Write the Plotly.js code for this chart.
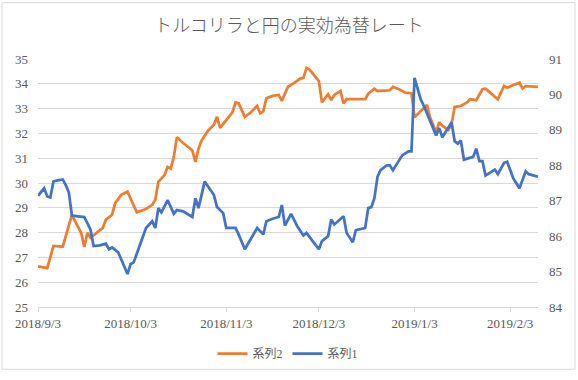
<!DOCTYPE html>
<html>
<head>
<meta charset="utf-8">
<script src="https://cdn.plot.ly/plotly-3.0.1.min.js"></script>
<style>html,body{margin:0;padding:0;background:#fff;}#chart{width:578px;height:380px;}</style>
</head>
<body>
<div id="chart"></div>
<script>
// 系列2 (トルコリラ, left axis)
const dates2 = ["2018-09-03","2018-09-06","2018-09-08","2018-09-11","2018-09-12","2018-09-14","2018-09-15","2018-09-17","2018-09-18","2018-09-19","2018-09-20","2018-09-22","2018-09-24","2018-09-25","2018-09-27","2018-09-28","2018-09-29","2018-09-30","2018-10-02","2018-10-04","2018-10-05","2018-10-08","2018-10-10","2018-10-11","2018-10-12","2018-10-14","2018-10-15","2018-10-16","2018-10-17","2018-10-18","2018-10-20","2018-10-22","2018-10-23","2018-10-24","2018-10-25","2018-10-26","2018-10-28","2018-10-30","2018-10-31","2018-11-01","2018-11-03","2018-11-05","2018-11-06","2018-11-07","2018-11-09","2018-11-11","2018-11-13","2018-11-14","2018-11-15","2018-11-16","2018-11-18","2018-11-20","2018-11-21","2018-11-22","2018-11-23","2018-11-25","2018-11-27","2018-11-28","2018-11-29","2018-11-30","2018-12-03","2018-12-04","2018-12-06","2018-12-07","2018-12-08","2018-12-10","2018-12-11","2018-12-12","2018-12-18","2018-12-19","2018-12-21","2018-12-22","2018-12-26","2018-12-27","2018-12-29","2018-12-31","2019-01-02","2019-01-03","2019-01-05","2019-01-06","2019-01-07","2019-01-08","2019-01-10","2019-01-11","2019-01-12","2019-01-14","2019-01-15","2019-01-16","2019-01-18","2019-01-20","2019-01-21","2019-01-23","2019-01-25","2019-01-26","2019-01-28","2019-01-30","2019-02-01","2019-02-02","2019-02-04","2019-02-06","2019-02-07","2019-02-08","2019-02-12"];
const values2 = [26.64,26.57,27.46,27.43,27.86,28.72,28.46,27.99,27.42,27.99,27.79,27.99,28.19,28.52,28.72,29.19,29.36,29.52,29.65,29.12,28.82,28.95,29.12,29.32,30.05,30.32,30.65,30.58,31.05,31.85,31.61,31.42,31.31,30.85,31.38,31.71,32.09,32.35,32.67,32.22,32.54,32.85,33.25,33.22,32.67,32.85,33.11,32.81,32.89,33.42,33.51,33.55,33.31,33.60,33.88,34.04,34.21,34.24,34.64,34.57,34.11,33.25,33.58,33.34,33.55,33.71,33.21,33.38,33.38,33.60,33.80,33.71,33.74,33.88,33.78,33.64,33.62,32.65,32.91,33.02,33.15,32.65,32.05,32.45,32.31,32.14,32.38,33.07,33.11,33.25,33.38,33.34,33.78,33.80,33.58,33.38,33.91,33.84,33.95,34.04,33.81,33.91,33.88];

// 系列1 (円, right axis)
const dates1 = ["2018-09-03","2018-09-05","2018-09-06","2018-09-07","2018-09-08","2018-09-09","2018-09-11","2018-09-12","2018-09-13","2018-09-14","2018-09-16","2018-09-18","2018-09-19","2018-09-20","2018-09-21","2018-09-23","2018-09-25","2018-09-26","2018-09-27","2018-09-29","2018-10-02","2018-10-03","2018-10-04","2018-10-05","2018-10-08","2018-10-10","2018-10-11","2018-10-12","2018-10-13","2018-10-15","2018-10-17","2018-10-18","2018-10-20","2018-10-23","2018-10-24","2018-10-25","2018-10-27","2018-10-30","2018-10-31","2018-11-02","2018-11-03","2018-11-06","2018-11-07","2018-11-09","2018-11-11","2018-11-13","2018-11-15","2018-11-16","2018-11-18","2018-11-20","2018-11-21","2018-11-22","2018-11-24","2018-11-26","2018-11-28","2018-11-29","2018-12-01","2018-12-03","2018-12-04","2018-12-06","2018-12-07","2018-12-08","2018-12-11","2018-12-12","2018-12-14","2018-12-15","2018-12-18","2018-12-19","2018-12-20","2018-12-21","2018-12-22","2018-12-23","2018-12-25","2018-12-26","2018-12-27","2018-12-29","2018-12-30","2019-01-01","2019-01-02","2019-01-03","2019-01-05","2019-01-06","2019-01-08","2019-01-10","2019-01-11","2019-01-12","2019-01-15","2019-01-16","2019-01-17","2019-01-18","2019-01-19","2019-01-22","2019-01-23","2019-01-24","2019-01-25","2019-01-26","2019-01-29","2019-01-30","2019-02-01","2019-02-02","2019-02-04","2019-02-06","2019-02-08","2019-02-09","2019-02-12"];
const values1 = [87.14,87.35,87.12,87.09,87.54,87.57,87.60,87.44,87.23,86.58,86.56,86.54,86.37,86.19,85.72,85.74,85.79,85.63,85.68,85.54,84.93,85.21,85.26,85.49,86.23,86.42,86.23,86.79,86.67,87.02,86.63,86.74,86.70,86.54,87.07,86.79,87.54,87.16,86.82,86.65,86.23,86.23,86.05,85.63,85.91,86.23,86.05,86.42,86.49,86.54,86.88,86.30,86.63,86.28,86.02,86.09,85.86,85.63,85.86,86.00,86.47,86.33,86.56,86.09,85.83,86.17,86.23,86.79,86.82,87.07,87.68,87.86,88.00,88.00,87.86,88.14,88.28,88.39,88.39,90.47,89.86,89.68,89.26,88.84,89.05,88.79,89.21,88.68,88.61,88.70,88.16,88.24,88.47,88.12,88.12,87.71,87.88,87.75,88.07,88.10,87.63,87.35,87.83,87.75,87.68];

const xTicks = ["2018-09-03","2018-10-03","2018-11-03","2018-12-03","2019-01-03","2019-02-03"];
const xTickText = ["2018/9/3","2018/10/3","2018/11/3","2018/12/3","2019/1/3","2019/2/3"];
const titleText = "トルコリラと円の実効為替レート";
const seriesNames = ["系列2","系列1"];

const tickFont = {family: "Liberation Serif, 'Noto Sans CJK JP', serif", size: 13, color: "#595959"};

const traces = [
  {x: dates2, y: values2, name: seriesNames[0], type: "scatter", mode: "lines",
   line: {color: "#ED7D31", width: 2.75}, yaxis: "y"},
  {x: dates1, y: values1, name: seriesNames[1], type: "scatter", mode: "lines",
   line: {color: "#4472C4", width: 2.75}, yaxis: "y2"}
];

const layout = {
  width: 578, height: 380,
  margin: {l: 38, r: 40, t: 59, b: 70},
  paper_bgcolor: "#ffffff", plot_bgcolor: "#ffffff",
  title: {text: titleText, x: 0.5, xanchor: "center", y: 0.932, yanchor: "middle",
    font: {family: "'Noto Sans CJK JP', sans-serif", size: 18, color: "#595959", weight: 300}},
  showlegend: true,
  legend: {orientation: "h", x: 0.5, xanchor: "center", y: -0.13, yanchor: "top",
    font: {family: "Liberation Serif, 'Noto Sans CJK JP', serif", size: 12, color: "#595959"},
    traceorder: "normal"},
  xaxis: {type: "date", range: ["2018-09-03", "2019-02-12"], tickvals: xTicks, ticktext: xTickText,
    showgrid: false, zeroline: false, showline: true, linecolor: "#d9d9d9", linewidth: 1,
    ticks: "outside", ticklen: 4, tickcolor: "#d9d9d9", tickfont: tickFont},
  yaxis: {range: [25, 35], dtick: 1, tick0: 25, showgrid: true, gridcolor: "#d9d9d9", gridwidth: 1,
    zeroline: false, showline: false, ticks: "", tickfont: tickFont, ticklabelstandoff: 9},
  yaxis2: {range: [84, 91], dtick: 1, tick0: 84, overlaying: "y", side: "right", showgrid: false,
    zeroline: false, showline: false, ticks: "", tickfont: tickFont, ticklabelstandoff: 10},
  shapes: [{type: "rect", xref: "paper", yref: "paper", x0: -0.072, x1: 1.074, y0: -0.251, y1: 1.227,
    line: {color: "#d9d9d9", width: 1}, fillcolor: "rgba(0,0,0,0)"}]
};

Plotly.newPlot("chart", traces, layout, {displayModeBar: false, staticPlot: true});
</script>
</body>
</html>
